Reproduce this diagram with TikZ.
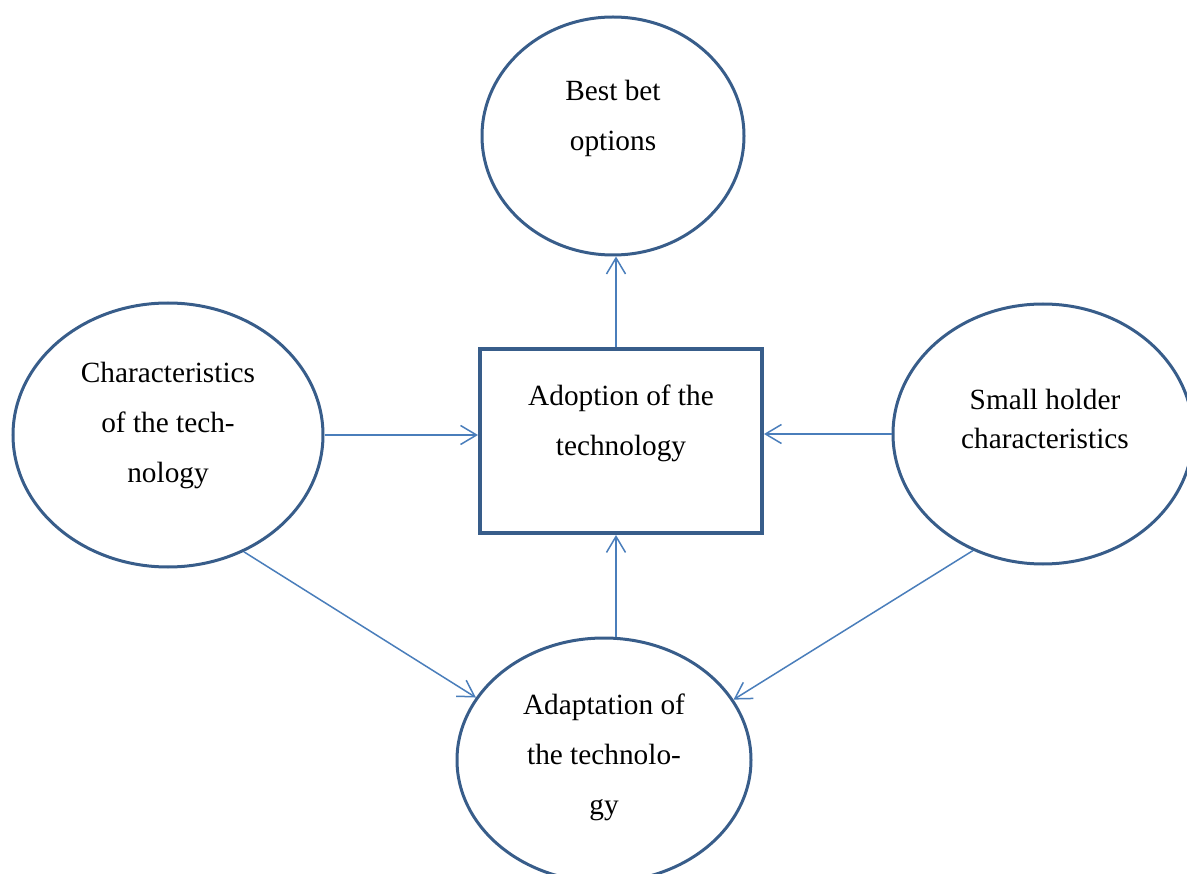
\documentclass[tikz,border=0pt]{standalone}
\usepackage{fontspec}
\setmainfont{Liberation Serif}
\usetikzlibrary{shapes.geometric,arrows.meta}
\definecolor{outl}{HTML}{385D8A}
\definecolor{arr}{HTML}{4A7EBB}
\newcommand\lnstack[1]{\begin{tabular}[t]{@{}c@{}}#1\end{tabular}}
\begin{document}
\begin{tikzpicture}[x=1pt,y=-1pt,
  font=\fontsize{29.3}{50}\selectfont,
  oval/.style={ellipse, draw=outl, line width=3pt, inner sep=0pt},
  boxnode/.style={rectangle, draw=outl, line width=4pt, inner sep=0pt},
  conn/.style={draw=arr, line width=1.5pt, -{Straight Barb[length=16pt,width=19pt]}},
  lbl/.style={inner sep=0pt, anchor=base}]
\useasboundingbox (0,0) rectangle (1187,874);
\clip (0,0) rectangle (1187,874);
% shapes
\node[oval, minimum width=262pt, minimum height=238pt] (best) at (613,136) {};
\node[oval, minimum width=310pt, minimum height=264pt] (char) at (168,435) {};
\node[oval, minimum width=300pt, minimum height=260pt] (small) at (1043,434) {};
\node[oval, minimum width=294pt, minimum height=244pt] (adapt) at (604,760) {};
\node[boxnode, minimum width=282pt, minimum height=184pt] (adopt) at (621,441) {};
% texts
\node[lbl] (tbest) at (613,100.5) {\lnstack{Best bet\\options}};
\node[lbl] (tchar) at (168,382.5) {\lnstack{Characteristics\\of the tech-\\nology}};
\node[lbl] (tadopt) at (621,405.5) {\lnstack{Adoption of the\\technology}};
\node[lbl, font=\fontsize{29.3}{39}\selectfont] (tsmall) at (1045,410) {\lnstack{Small holder\\characteristics}};
\node[lbl] (tadapt) at (604,714.5) {\lnstack{Adaptation of\\the technolo-\\gy}};
% connectors
\coordinate (upx) at ([xshift=-5pt]adopt.north);
\coordinate (dnx) at ([xshift=-5pt]adopt.south);
\draw[conn] (upx) -- (upx |- best.south);
\draw[conn] (dnx |- adapt.north) -- (dnx);
\draw[conn] (char.east) -- (char.east -| adopt.west);
\draw[conn] (small.west) -- (small.west -| adopt.east);
\draw[conn] (char.-57) -- (adapt.154);
\draw[conn] (small.-121.5) -- (adapt.25.7);
\end{tikzpicture}
\end{document}
